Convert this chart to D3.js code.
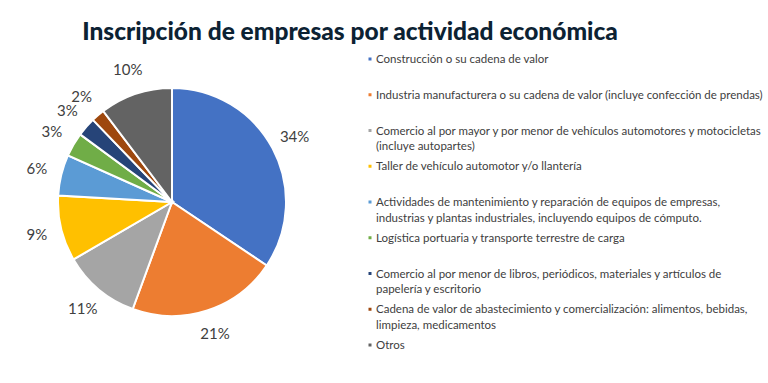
<!DOCTYPE html>
<html>
<head>
<meta charset="utf-8">
<script src="https://cdn.jsdelivr.net/npm/d3@7"></script>
<style>
  body { margin: 0; background: #ffffff; }
  svg { display: block; }
</style>
</head>
<body>
<svg class="pie-svg" width="768" height="383"></svg>
<script>
// Data (labels show the rounded percentages)
var categories = [
    "Construcción o su cadena de valor",
    "Industria manufacturera o su cadena de valor (incluye confección de prendas)",
    "Comercio al por mayor y por menor de vehículos automotores y motocicletas\n(incluye autopartes)",
    "Taller de vehículo automotor y/o llantería",
    "Actividades de mantenimiento y reparación de equipos de empresas,\nindustrias y plantas industriales, incluyendo equipos de cómputo.",
    "Logística portuaria y transporte terrestre de carga",
    "Comercio al por menor de libros, periódicos, materiales y artículos de\npapelería y escritorio",
    "Cadena de valor de abastecimiento y comercialización: alimentos, bebidas,\nlimpieza, medicamentos",
    "Otros"
];
var values = [34.4, 21.2, 11.0, 9.3, 5.8, 3.4, 2.7, 1.9, 10.3];
var colors = ["#4472c4", "#ed7d31", "#a5a5a5", "#ffc000", "#5b9bd5", "#70ad47", "#264478", "#9e480e", "#636363"];
var title = "Inscripción de empresas por actividad económica";

var svg = d3.select(".pie-svg"),
    cx = 172, cy = 202,
    radius = 114,
    labelRadius = 139;

// Title
svg.append("text")
    .attr("x", 350)
    .attr("y", 40)
    .attr("text-anchor", "middle")
    .attr("font-family", "Lato, 'Open Sans', sans-serif")
    .attr("font-weight", 900)
    .attr("font-size", "24.5px")
    .attr("fill", "#0c2233")
    .text(title);

var data = categories.map(function(c, i) {
    return {name: c, value: values[i], color: colors[i]};
});

var pie = d3.pie()
    .sort(null)
    .value(function(d) { return d.value; });

var arc = d3.arc().innerRadius(0).outerRadius(radius);
var labelArc = d3.arc().innerRadius(labelRadius).outerRadius(labelRadius);

var chart = svg.append("g")
    .attr("transform", "translate(" + cx + "," + cy + ")");

chart.selectAll(".slice")
    .data(pie(data))
    .enter()
        .append("path")
        .attr("class", "slice")
        .attr("d", arc)
        .attr("fill", function(d) { return d.data.color; })
        .attr("stroke", "#ffffff")
        .attr("stroke-width", 2);

chart.selectAll(".pct")
    .data(pie(data))
    .enter()
        .append("text")
        .attr("class", "pct")
        .attr("transform", function(d) { return "translate(" + labelArc.centroid(d) + ")"; })
        .attr("text-anchor", "middle")
        .attr("dy", "0.35em")
        .attr("font-family", "Lato, 'Open Sans', sans-serif")
        .attr("font-size", "15px")
        .attr("fill", "#404040")
        .text(function(d) { return Math.round(d.data.value) + "%"; });

// Legend: entries evenly spaced by first line
var legend = svg.append("g")
    .attr("transform", "translate(370,59)");

var legendStep = 35.75,
    lineHeight = 15.5;

var entry = legend.selectAll(".entry")
    .data(data)
    .enter()
        .append("g")
        .attr("class", "entry")
        .attr("transform", function(d, i) { return "translate(0," + (i * legendStep) + ")"; });

entry.append("rect")
    .attr("x", -1.5)
    .attr("y", -1.5)
    .attr("width", 3)
    .attr("height", 3)
    .attr("fill", function(d) { return d.color; });

entry.each(function(d) {
    var lines = d.name.split("\n");
    var t = d3.select(this).append("text")
        .attr("font-family", "Lato, 'Open Sans', sans-serif")
        .attr("font-size", "11.5px")
        .attr("fill", "#404040");
    lines.forEach(function(line, j) {
        t.append("tspan")
            .attr("x", 6)
            .attr("y", j * lineHeight)
            .attr("dy", "0.35em")
            .text(line);
    });
});
</script>
</body>
</html>
